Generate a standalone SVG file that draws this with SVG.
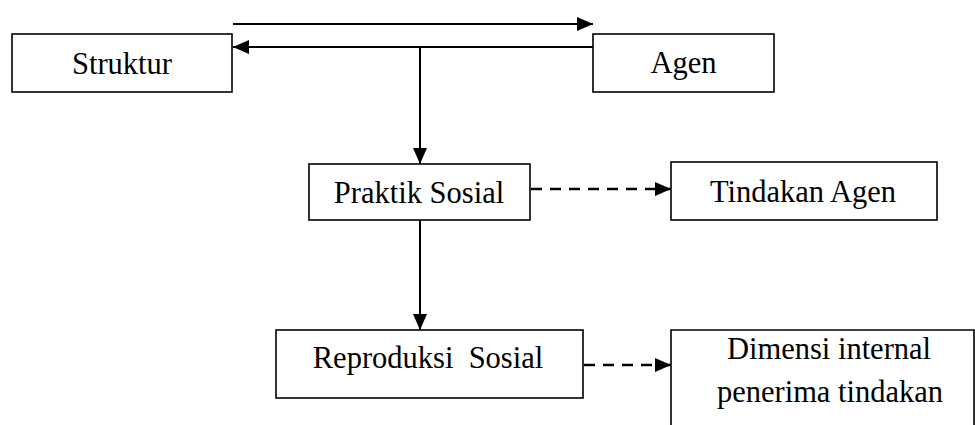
<svg xmlns="http://www.w3.org/2000/svg" width="975" height="425" viewBox="0 0 975 425">
<style>
.box{fill:#fff;stroke:#000;stroke-width:1.6}
.lbl{font-family:'Liberation Serif','DejaVu Serif',serif;font-size:30.5px;fill:#000;text-anchor:middle;white-space:pre}
.ln{fill:none;stroke:#000;stroke-width:2}
.dash{fill:none;stroke:#000;stroke-width:2.5;stroke-dasharray:11 8}
</style>
<defs>
<marker id="ah" markerUnits="userSpaceOnUse" markerWidth="17" markerHeight="15" refX="16" refY="7" orient="auto">
<path d="M0,0 L16,7 L0,14 Z" fill="#000"/>
</marker>
</defs>
<rect width="975" height="425" fill="#fff"/>
<g id="connectors">
<line class="ln" x1="233" y1="24" x2="593" y2="24" marker-end="url(#ah)"/>
<line class="ln" x1="593" y1="47" x2="233" y2="47" marker-end="url(#ah)"/>
<line class="ln" x1="420" y1="47" x2="420" y2="164" marker-end="url(#ah)"/>
<line class="ln" x1="420" y1="220" x2="420" y2="330" marker-end="url(#ah)"/>
<line class="dash" x1="531" y1="189" x2="671" y2="189" marker-end="url(#ah)"/>
<line class="dash" x1="584" y1="365" x2="671" y2="365" marker-end="url(#ah)"/>
</g>
<g id="struktur">
<rect class="box" x="12" y="34" width="220" height="58"/>
<text class="lbl" x="122" y="74">Struktur</text>
</g>
<g id="agen">
<rect class="box" x="593" y="34" width="181" height="58"/>
<text class="lbl" x="683.5" y="73">Agen</text>
</g>
<g id="praktik">
<rect class="box" x="309" y="164" width="221" height="56"/>
<text class="lbl" x="419" y="203">Praktik Sosial</text>
</g>
<g id="tindakan">
<rect class="box" x="671" y="162" width="266" height="58"/>
<text class="lbl" x="803" y="202">Tindakan Agen</text>
</g>
<g id="reproduksi">
<rect class="box" x="276" y="330" width="307" height="68"/>
<text class="lbl" x="428" y="368">Reproduksi  Sosial</text>
</g>
<g id="dimensi">
<path class="box" d="M671,440 L671,330 L974,330 L974,440"/>
<text class="lbl" x="829" y="359">Dimensi internal</text>
<text class="lbl" x="830" y="402">penerima tindakan</text>
</g>
</svg>
